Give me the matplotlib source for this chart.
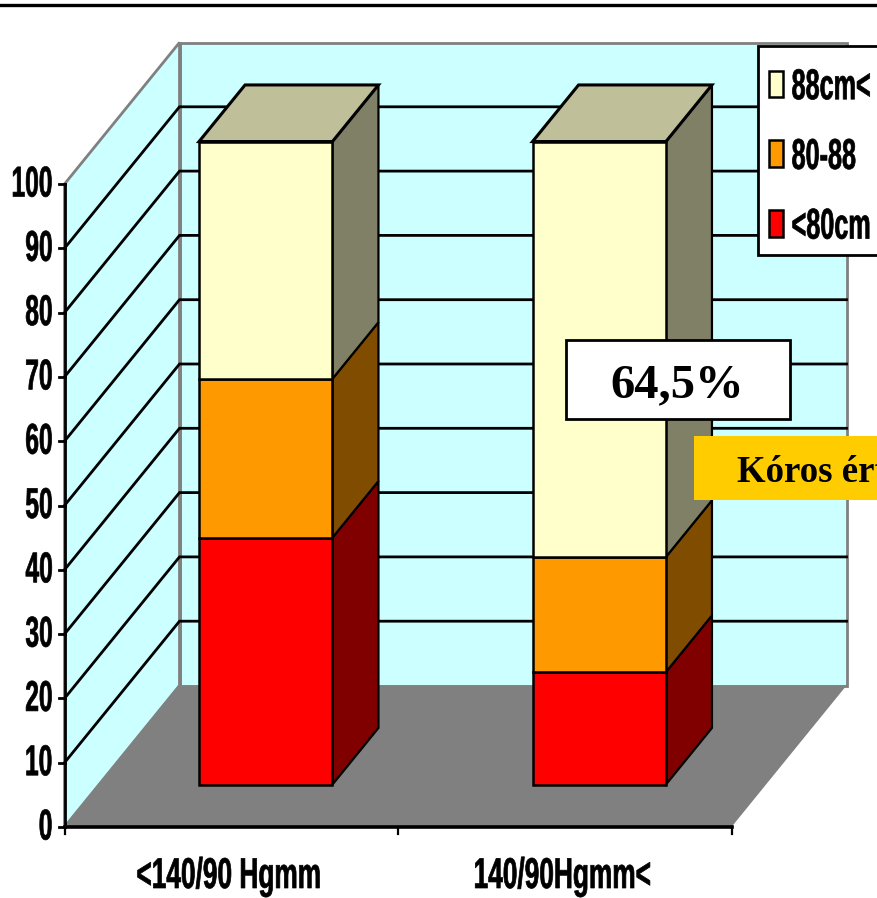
import matplotlib
matplotlib.use("Agg")
import matplotlib.pyplot as plt
from matplotlib.patches import Patch, Polygon, Rectangle
from matplotlib.patheffects import AbstractPathEffect
from matplotlib.transforms import Affine2D

categories = ['<140/90 Hgmm', '140/90Hgmm<']
series_names = ['<80cm', '80-88', '88cm<']
red_values = [38.4, 17.5]
orange_values = [24.7, 17.9]
yellow_values = [36.9, 64.6]
y_ticks = [0, 10, 20, 30, 40, 50, 60, 70, 80, 90, 100]
note_percent = '64,5%'
note_label = 'Kóros érték'

front = ['#FF0000', '#FF9900', '#FFFFCC']
side = ['#800000', '#804D00', '#808066']
top = '#BFBF99'
wall = '#CCFFFF'
floor = '#808080'


# oblique projection, category units / percent / depth -> pixels
def proj(x, v, d):
    return (64.5 + 333.5 * x + 115 * d, 827 - 6.43 * v - 141.5 * d)


# squeeze the glyphs sideways and fatten them a bit, the text stays text
class Squeeze(AbstractPathEffect):
    def __init__(self, sx=0.6, frac=0.0, stroke=0.5):
        super().__init__()
        self.sx = sx
        self.frac = frac
        self.stroke = stroke

    def draw_path(self, renderer, gc, tpath, affine, rgbFace=None):
        w = tpath.get_extents(affine).width
        t = Affine2D().scale(self.sx, 1) + affine + Affine2D().translate((1 - self.sx) * w * self.frac, 0)
        gc0 = renderer.new_gc()
        gc0.copy_properties(gc)
        gc0.set_linewidth(self.stroke)
        gc0.set_foreground('black')
        renderer.draw_path(gc0, tpath, t, rgbFace)
        gc0.restore()


def poly(ax, pts, color, edge='black', lw=1.6, z=2):
    ax.add_patch(Polygon(pts, closed=True, facecolor=color, edgecolor=edge, linewidth=lw, joinstyle='miter', zorder=z))


fig = plt.figure(figsize=(8.77, 8.98), dpi=100)
ax = fig.add_axes([0, 0, 1, 1])
ax.set_xlim(0, 877)
ax.set_ylim(898, 0)
ax.axis('off')

ax.plot([0, 877], [4.5, 4.5], color='black', lw=2.4, zorder=1)

# walls and floor
poly(ax, [proj(0, 0, 1), proj(2, 0, 1), proj(2, 100, 1), proj(0, 100, 1)], wall, edge='#808080', lw=2.0, z=1)
poly(ax, [proj(0, 0, 0), proj(0, 0, 1), proj(0, 100, 1), proj(0, 100, 0)], wall, edge='#808080', lw=2.0, z=1)
poly(ax, [proj(0, 0, 0), proj(2, 0, 0), proj(2, 0, 1), proj(0, 0, 1)], floor, edge='none', lw=0, z=1.1)
ax.plot(*zip(proj(0, 0, 0), proj(0, 0, 1)), color='#808080', lw=1.2, zorder=1.2)
ax.plot(*zip(proj(0, 0, 1), proj(0, 100, 1)), color='#808080', lw=1.8, zorder=1.2)

# grid
for v in y_ticks[1:-1]:
    ax.plot(*zip(proj(0, v, 0), proj(0, v, 1), proj(2, v, 1)), color='black', lw=2.0, zorder=1.5,
            solid_joinstyle='miter')

# bars
for i in range(len(categories)):
    x0 = i + 0.3
    x1 = i + 0.7
    base = 0
    for j, vals in enumerate([red_values, orange_values, yellow_values]):
        h = base + vals[i]
        poly(ax, [proj(x1, base, 0.3), proj(x1, base, 0.7), proj(x1, h, 0.7), proj(x1, h, 0.3)], side[j])
        poly(ax, [proj(x0, base, 0.3), proj(x1, base, 0.3), proj(x1, h, 0.3), proj(x0, h, 0.3)], front[j], lw=1.8)
        base = h
    poly(ax, [proj(x0, base, 0.3), proj(x1, base, 0.3), proj(x1, base, 0.7), proj(x0, base, 0.7)], top, lw=2.2)

# axes
ax.plot(*zip(proj(0, 0, 0), proj(0, 100, 0)), color='black', lw=2.0, zorder=3)
ax.plot(*zip(proj(0, 0, 0), proj(2, 0, 0)), color='black', lw=2.6, zorder=3)

label_font = {'family': 'Liberation Sans', 'weight': 'bold', 'size': 31, 'color': 'black'}
for v in y_ticks:
    px, py = proj(0, v, 0)
    ax.plot([px - 6, px], [py, py], color='black', lw=2.0, zorder=3)
    s = str(v)
    ax.text(px - 11.5 - len(s) * 6.7, py + 1.5, s, ha='center', va='center',
            path_effects=[Squeeze(0.57, 0.5)], **label_font)

for i in range(len(categories) + 1):
    px, py = proj(i, 0, 0)
    ax.plot([px, px], [py, py + 7], color='black', lw=1.6, zorder=3)

for i, name in enumerate(categories):
    px, py = proj(i + 0.5, 0, 0)
    ax.text(px - 2, 888, name, ha='center', va='baseline', path_effects=[Squeeze(0.61, 0.5)], **label_font)

# legend, its box runs off the right edge
ax.add_patch(Rectangle((758, 46), 140, 209, facecolor='white', edgecolor='black', linewidth=2.0, zorder=4.5))
handles = [Patch(facecolor=front[j], edgecolor='black', linewidth=1.8, label=series_names[j]) for j in [2, 1, 0]]
leg = ax.legend(handles=handles, loc='upper left', bbox_to_anchor=(758, 57), bbox_transform=ax.transData,
                borderaxespad=0, borderpad=0.26, labelspacing=0.69, handlelength=0.33, handleheight=0.58,
                handletextpad=0.19, frameon=False,
                prop={'family': 'Liberation Sans', 'weight': 'bold', 'size': 31})
leg.set_zorder(5)
for t in leg.get_texts():
    t.set_path_effects([Squeeze(0.585, 0.0)])

# notes
ax.add_patch(Rectangle((566, 340), 224, 79, facecolor='white', edgecolor='black', linewidth=2.0, zorder=6))
ax.text(677, 397, note_percent, ha='center', va='baseline', family='Liberation Serif', weight='bold', size=35, zorder=7)
ax.add_patch(Rectangle((694, 436), 200, 64, facecolor='#FFCC00', edgecolor='none', zorder=6))
ax.text(737, 482, note_label, ha='left', va='baseline', family='Liberation Serif', weight='bold', size=26.5, zorder=7)

fig.savefig('out.png', dpi=100)
